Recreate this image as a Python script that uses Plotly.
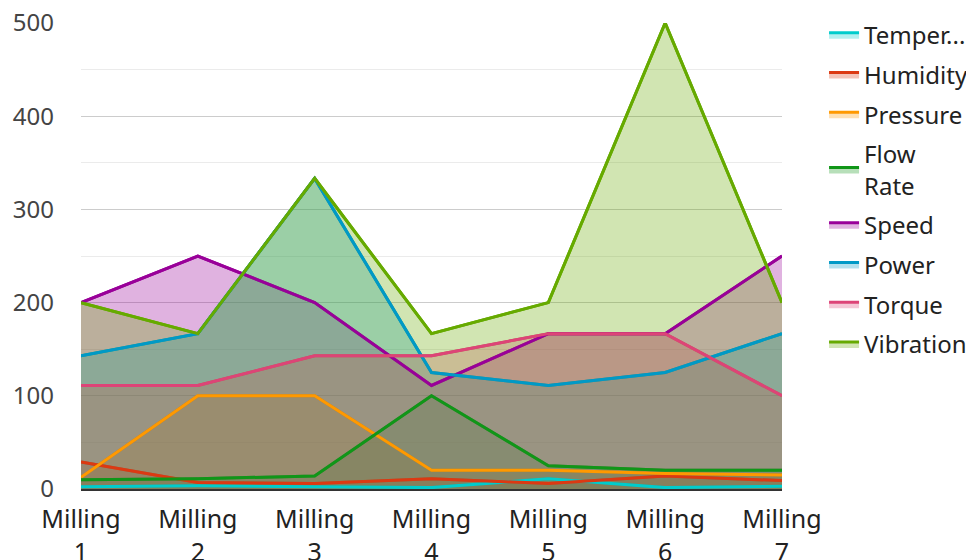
import plotly.graph_objects as go

categories = ["Milling<br>1", "Milling<br>2", "Milling<br>3", "Milling<br>4",
              "Milling<br>5", "Milling<br>6", "Milling<br>7"]
series_names = ["Temper...", "Humidity", "Pressure", "Flow<br>Rate",
                "Speed", "Power", "Torque", "Vibration"]
temperature = [2.5, 3.5, 2.5, 1.5, 11, 1.5, 3]
humidity = [29, 7, 6, 11, 6, 14, 9]
pressure = [12.5, 100, 100, 20, 20, 16.7, 15]
flow_rate = [10, 11, 14, 100, 25, 20, 20]
speed = [200, 250, 200, 111.1, 166.7, 166.7, 250]
power = [142.9, 166.7, 333.3, 125, 111.1, 125, 166.7]
torque = [111.1, 111.1, 142.9, 142.9, 166.7, 166.7, 100]
vibration = [200, 166.7, 333.3, 166.7, 200, 500, 200]
y_ticks = [0, 100, 200, 300, 400, 500]

series_values = [temperature, humidity, pressure, flow_rate, speed, power, torque, vibration]
colors = ["#00cccc", "#dc3912", "#ff9900", "#109618",
          "#990099", "#0099c6", "#dd4477", "#66aa00"]


def rgba(hex_color, a):
    h = hex_color.lstrip("#")
    r, g, b = int(h[0:2], 16), int(h[2:4], 16), int(h[4:6], 16)
    return f"rgba({r},{g},{b},{a})"


x_idx = list(range(len(categories)))
fig = go.Figure()
# filled areas (with legend entries)
for i, (name, vals, c) in enumerate(zip(series_names, series_values, colors)):
    fig.add_trace(go.Scatter(
        x=x_idx, y=vals, name=name, mode="lines",
        line=dict(color=c, width=3), fill="tozeroy", fillcolor=rgba(c, 0.3),
        legendgroup=f"g{i}",
    ))
# lines on top of all fills
for i, (name, vals, c) in enumerate(zip(series_names, series_values, colors)):
    fig.add_trace(go.Scatter(
        x=x_idx, y=vals, name=name, mode="lines",
        line=dict(color=c, width=3), showlegend=False,
        legendgroup=f"g{i}",
    ))

font_family = "Noto Sans, Open Sans, sans-serif"
fig.update_layout(
    width=966, height=552,
    margin=dict(l=73, r=192, t=15, b=71, autoexpand=False),
    paper_bgcolor="white", plot_bgcolor="white",
    font=dict(family=font_family, size=24, color="#444444"),
    showlegend=True,
    legend=dict(x=1.06, y=1.022, xanchor="left", yanchor="top",
                font=dict(size=24, color="#222222"), tracegroupgap=5.5,
                itemwidth=30, bgcolor="rgba(0,0,0,0)", maxheight=540),
    xaxis=dict(
        tickmode="array", tickvals=x_idx, ticktext=categories,
        range=[0, len(categories) - 1], showgrid=False, zeroline=False,
        showline=True, linecolor="#333333", linewidth=2, automargin=False,
        tickfont=dict(size=25, color="#222222"), ticks="", fixedrange=True,
        ticklabelstandoff=7, ticklabeloverflow="allow",
    ),
    yaxis=dict(
        range=[0, 500], tickvals=y_ticks, showgrid=True, gridcolor="#cccccc",
        gridwidth=1, zeroline=False, showline=False, automargin=False,
        tickfont=dict(size=24, color="#444444"), ticklabelstandoff=26,
        ticklabeloverflow="allow",
        minor=dict(dtick=50, showgrid=True, gridcolor="#ebebeb", gridwidth=1),
    ),
)

fig.write_html("out.html")
